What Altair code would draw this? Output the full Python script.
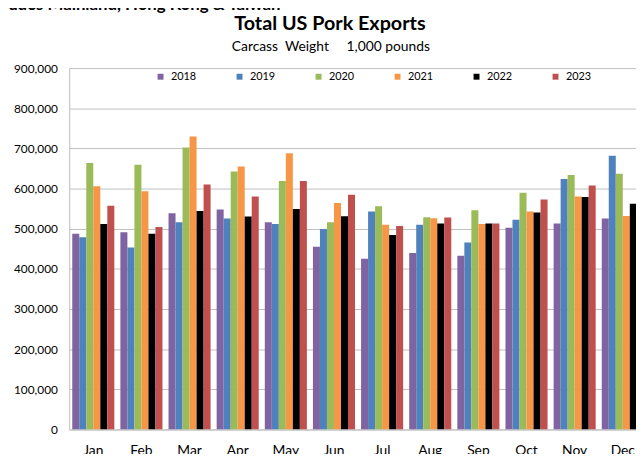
import altair as alt
import pandas as pd

months = ["Jan", "Feb", "Mar", "Apr", "May", "Jun", "Jul", "Aug", "Sep", "Oct", "Nov", "Dec"]
years = ["2018", "2019", "2020", "2021", "2022", "2023"]
colors = ["#8064A2", "#4F81BD", "#9BBB59", "#F79646", "#000000", "#C0504D"]

v2018 = [487600, 491000, 538500, 547500, 516300, 454900, 425400, 439300, 432800, 502400, 513100, 525400]
v2019 = [478700, 453200, 516300, 525400, 511400, 499100, 542600, 509800, 465600, 522100, 623700, 681900]
v2020 = [663900, 659000, 702400, 642600, 618800, 516300, 555700, 528600, 545900, 589300, 633600, 636800]
v2021 = [605700, 593400, 729400, 654900, 687600, 563900, 509800, 526200, 511400, 542600, 580300, 531900]
v2022 = [511400, 487600, 544200, 530300, 549100, 531100, 484400, 513100, 513100, 540100, 578700, 562200]
v2023 = [557300, 504100, 609800, 580300, 618800, 584400, 506500, 527800, 513100, 572900, 607300, None]

y_ticks = [0, 100000, 200000, 300000, 400000, 500000, 600000, 700000, 800000, 900000]

title_text = "Total US Pork Exports"
subtitle_text = "Carcass\u00a0\u00a0Weight\u00a0\u00a0\u00a0\u00a0\u00a01,000 pounds"
clipped_text = "Includes Mainland, Hong Kong & Taiwan"

series = {"2018": v2018, "2019": v2019, "2020": v2020, "2021": v2021, "2022": v2022, "2023": v2023}
rows = []
for yr in years:
    for m, v in zip(months, series[yr]):
        if v is not None:
            rows.append({"month": m, "year": yr, "value": v})
df = pd.DataFrame(rows)

FONT = "Lato"
GRID = "#bfbfbf"

bars = alt.Chart(df).mark_bar(clip=True).encode(
    x=alt.X(
        "month:N",
        sort=months,
        scale=alt.Scale(range=[0, 585], paddingInner=0.126, paddingOuter=0.063),
        axis=alt.Axis(title=None, labelAngle=0, ticks=False, domainColor=GRID,
                      labelFontSize=14, labelPadding=14, labelColor="#000000"),
    ),
    xOffset=alt.XOffset("year:N", sort=years, scale=alt.Scale(paddingInner=0, paddingOuter=0)),
    y=alt.Y(
        "value:Q",
        scale=alt.Scale(domain=[0, 900000], nice=False),
        axis=alt.Axis(title=None, values=y_ticks, format=",.0f", grid=True, gridColor=GRID,
                      domainColor=GRID, ticks=False, labelPadding=12, labelFontSize=12,
                      labelColor="#000000"),
    ),
    color=alt.Color(
        "year:N",
        sort=years,
        scale=alt.Scale(domain=years, range=colors),
        legend=alt.Legend(title=None, orient="none", legendX=87, legendY=3, direction="horizontal",
                          symbolType="square", symbolSize=36, labelFontSize=11, labelOffset=5,
                          columnPadding=38, symbolStrokeWidth=0, padding=0, labelColor="#000000"),
    ),
)

title_mark = alt.Chart(pd.DataFrame({"t": [title_text]})).mark_text(
    font=FONT, fontSize=20, fontWeight="bold", align="center", baseline="alphabetic", color="#000000"
).encode(text="t:N", x=alt.value(264), y=alt.value(-39))

subtitle_mark = alt.Chart(pd.DataFrame({"t": [subtitle_text]})).mark_text(
    font=FONT, fontSize=14, align="center", baseline="alphabetic", color="#000000"
).encode(text="t:N", x=alt.value(265), y=alt.value(-17))

clipped_mark = alt.Chart(pd.DataFrame({"t": [clipped_text]})).mark_text(
    font=FONT, fontSize=17, fontWeight="bold", align="right", baseline="alphabetic", color="#000000"
).encode(text="t:N", x=alt.value(214), y=alt.value(-59))

chart = alt.layer(bars, title_mark, subtitle_mark, clipped_mark).properties(
    width=574,
    height=366,
    autosize=alt.AutoSizeParams(type="none"),
    padding={"left": 62, "top": 58, "right": 0, "bottom": 22},
).configure_view(strokeWidth=0).configure_axis(labelFont=FONT).configure_legend(labelFont=FONT)

chart.save("out.html", embed_options={"renderer": "svg", "actions": False})
